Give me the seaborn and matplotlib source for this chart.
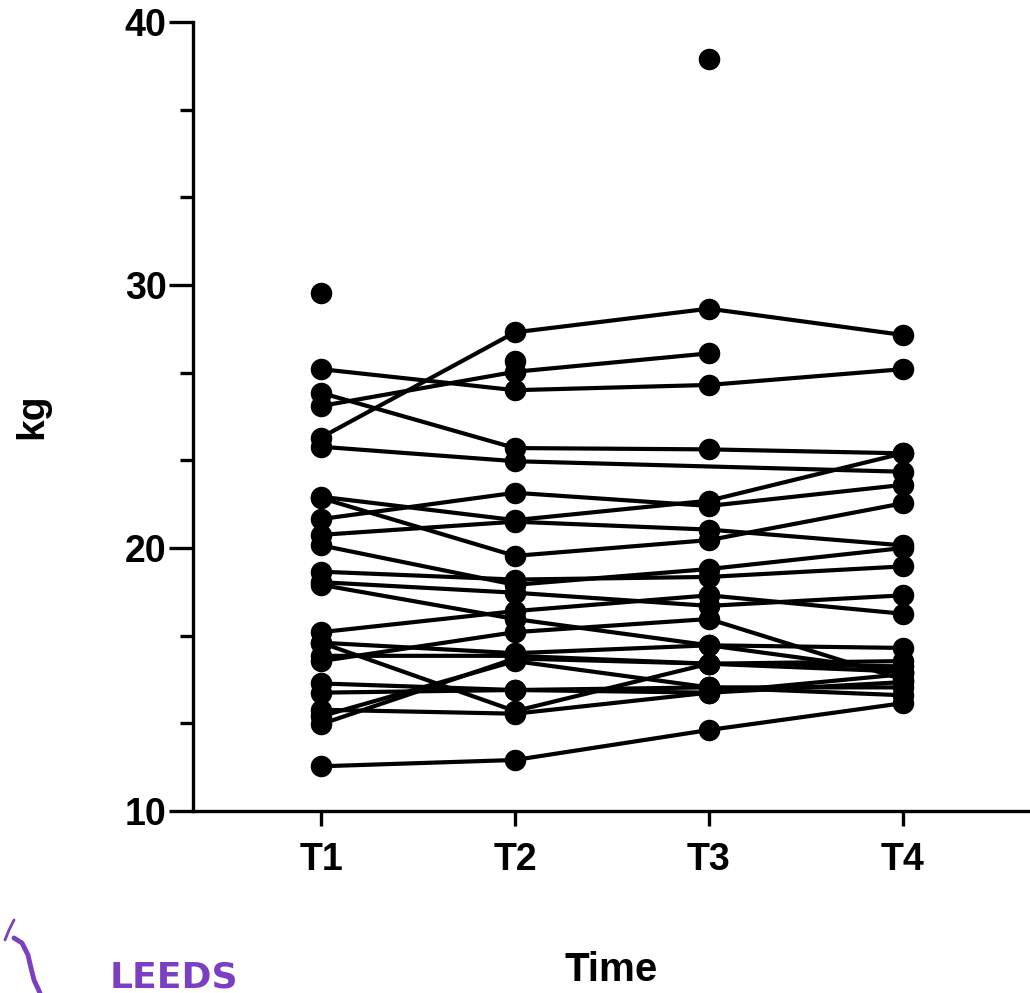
import numpy as np
import pandas as pd
import matplotlib
matplotlib.use("Agg")
import matplotlib.pyplot as plt
from matplotlib.ticker import FixedLocator
import seaborn as sns

# Time points and per-subject grip values (kg); NaN = missing visit
time_labels = ["T1", "T2", "T3", "T4"]
t1 = [24.2, 26.8, 25.4, 25.9, 23.85, 21.1, 21.95, 20.5, 21.9, 20.1, 19.1, 18.7,
      18.6, 16.8, 16.4, 16.4, 15.9, 15.7, 14.85, 14.5, 13.85, 13.6, 13.3, 11.7,
      29.7, np.nan, np.nan]
t2 = [28.2, 26.0, 26.7, 23.8, 23.3, 22.1, 21.06, 21.0, 19.7, 18.6, 18.8, 18.3,
      17.3, 17.6, 16.0, 13.8, 15.9, 16.8, 14.6, 14.6, 13.7, 15.7, 15.8, 11.94,
      np.nan, 27.1, np.nan]
t3 = [29.1, 26.2, 27.4, 23.75, np.nan, 21.6, 21.8, 20.7, 20.3, 19.2, 18.9, 17.8,
      16.3, 18.2, 16.3, 15.6, 15.6, 17.3, 14.5, 14.7, 14.5, 14.7, 15.6, 13.08,
      np.nan, np.nan, 38.6]
t4 = [28.1, 26.8, np.nan, 23.6, 22.9, 22.4, 23.6, 20.1, 21.7, 20.0, 19.3, 18.2,
      15.3, 17.5, 16.2, 15.5, 15.7, 15.0, 14.9, 14.7, 15.2, 14.4, 15.3, 14.1,
      np.nan, np.nan, np.nan]

wide = pd.DataFrame({"T1": t1, "T2": t2, "T3": t3, "T4": t4})
wide["subject"] = np.arange(len(wide))
df = wide.melt(id_vars="subject", var_name="time", value_name="kg").dropna()
df["pos"] = df["time"].map({lab: i for i, lab in enumerate(time_labels)})
df = df.sort_values(["subject", "pos"])

sns.set_style("ticks")
plt.rcParams["font.family"] = ["Liberation Sans", "DejaVu Sans"]
plt.rcParams["font.weight"] = "bold"

fig = plt.figure(figsize=(10.3, 9.93), dpi=100)
ax = fig.add_axes([193 / 1030, 1 - 811 / 993, 1 - 193 / 1030, (811 - 22) / 993])

sns.lineplot(
    data=df, x="pos", y="kg", units="subject", estimator=None,
    color="black", linewidth=3.0, marker="o", markersize=15.5,
    markeredgewidth=0, sort=False, ax=ax, legend=False
)

ax.set_xlim(-0.66, 3.655)
ax.set_ylim(10, 40)
ax.set_xticks(range(len(time_labels)))
ax.set_xticklabels(time_labels)
ax.set_yticks([10, 20, 30, 40])
ax.yaxis.set_minor_locator(FixedLocator([10 + k * 10 / 3 for k in range(10) if k % 3]))

for side in ["top", "right"]:
    ax.spines[side].set_visible(False)
for side in ["left", "bottom"]:
    ax.spines[side].set_linewidth(2.4)
    ax.spines[side].set_color("black")

ax.tick_params(axis="y", which="major", length=17, width=2.4, pad=2,
               labelsize=27, colors="black")
ax.tick_params(axis="y", which="minor", length=9.5, width=2.4, colors="black")
ax.tick_params(axis="x", which="major", length=11, width=2.4, pad=11,
               labelsize=27, colors="black")
for lab in ax.get_xticklabels() + ax.get_yticklabels():
    lab.set_fontweight("bold")

ax.set_xlabel("Time", fontsize=29, fontweight="bold", color="black")
ax.set_ylabel("kg", fontsize=28, fontweight="bold", color="black")
ax.xaxis.set_label_coords(0.5, -0.178)
ax.xaxis.label.set_va("top")
ax.yaxis.set_label_coords(-0.192, 0.5)
ax.yaxis.label.set_va("center")
ax.grid(False)

# Partial Leeds logo in the lower-left corner
purple = "#7b3fc4"
fig.text(110 / 1030, 1 - 988 / 993, "LEEDS", color=purple, fontsize=26,
         fontweight="bold", ha="left", va="baseline",
         family=["DejaVu Sans"])
fig.add_artist(plt.Line2D(np.array([14, 22, 28, 31, 34, 40]) / 1030,
                          1 - np.array([938, 943, 955, 968, 980, 993]) / 993,
                          color=purple, linewidth=3.5))
fig.add_artist(plt.Line2D(np.array([5, 9, 14]) / 1030,
                          1 - np.array([940, 930, 920]) / 993,
                          color=purple, linewidth=2))

fig.savefig("out.png", dpi=100)
